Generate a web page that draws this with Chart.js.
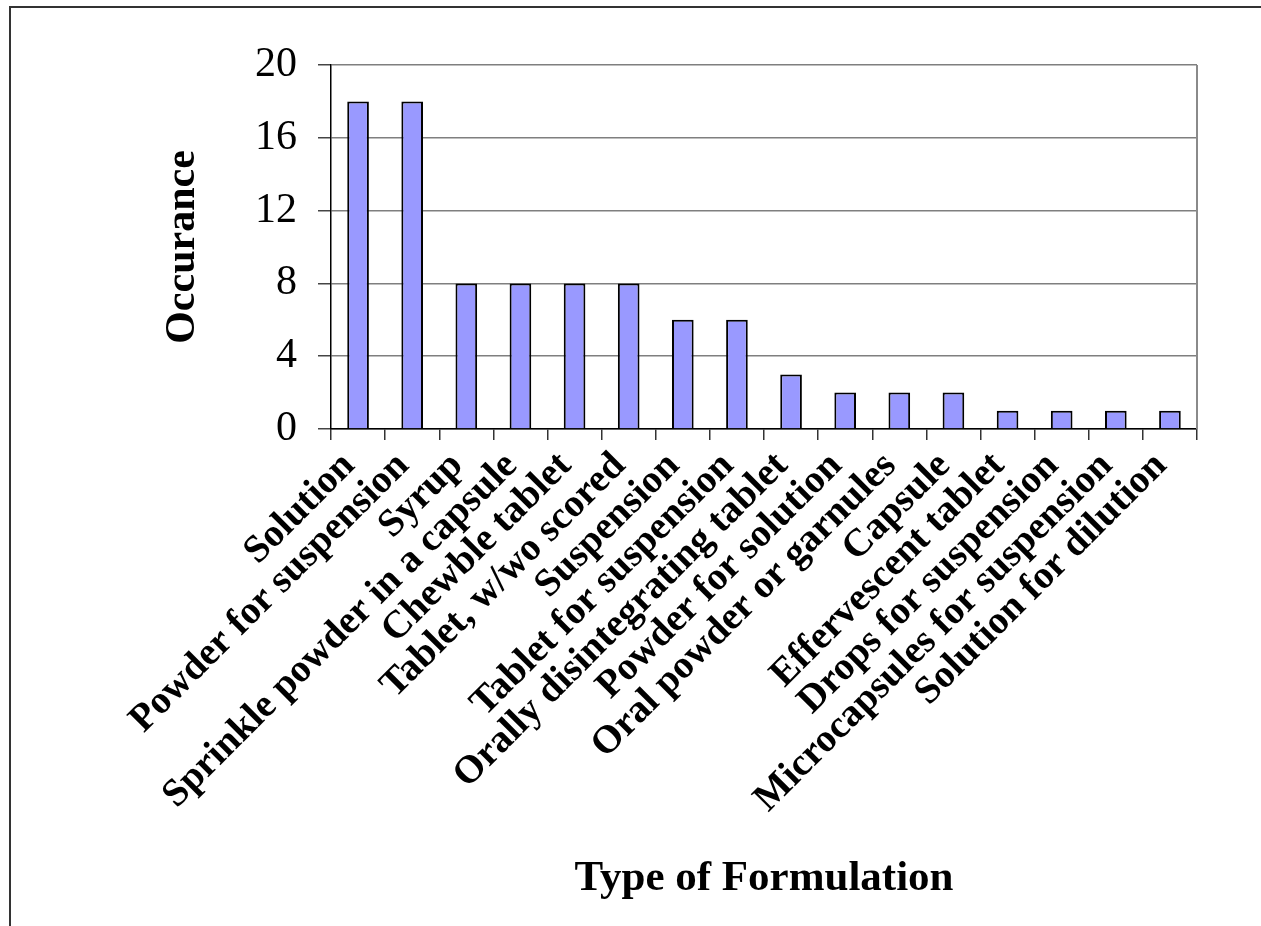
<!DOCTYPE html>
<html lang="en">
<head>
  <meta charset="utf-8">
  <title>Type of Formulation</title>
  <script src="https://cdn.jsdelivr.net/npm/chart.js@4"></script>
  <style>
    body { margin: 0; background: #fff; }
  </style>
</head>
<body>
  <canvas id="grafica" width="1261" height="926"></canvas>
<script>
  const categories = [
    'Solution',
    'Powder for suspension',
    'Syrup',
    'Sprinkle powder in a capsule',
    'Chewble tablet',
    'Tablet, w/wo scored',
    'Suspension',
    'Tablet for suspension',
    'Orally disintegrating tablet',
    'Powder for solution',
    'Oral powder or garnules',
    'Capsule',
    'Effervescent tablet',
    'Drops for suspension',
    'Microcapsules for suspension',
    'Solution for dilution'
  ];
  const occurance = [18, 18, 8, 8, 8, 8, 6, 6, 3, 2, 2, 2, 1, 1, 1, 1];
  const yTicks = [0, 4, 8, 12, 16, 20];

  const serif = "'Liberation Serif', 'Times New Roman', serif";

  // outer frame + right edge of the plot area
  const frame = {
    id: 'frame',
    beforeDraw(chart) {
      const ctx = chart.ctx;
      ctx.save();
      ctx.strokeStyle = '#333';
      ctx.lineWidth = 2;
      ctx.strokeRect(10, 7, 1400, 1000);
      ctx.restore();
    },
    beforeDatasetsDraw(chart) {
      const {ctx, chartArea} = chart;
      ctx.save();
      ctx.strokeStyle = '#8a8a8a';
      ctx.lineWidth = 2;
      ctx.beginPath();
      ctx.moveTo(chartArea.right, chartArea.top);
      ctx.lineTo(chartArea.right, chartArea.bottom);
      ctx.stroke();
      ctx.restore();
    }
  };

  const data = {
    labels: categories,
    datasets: [{
      label: 'Occurance',
      data: occurance,
      backgroundColor: '#9999ff',
      borderColor: '#000',
      borderWidth: 2,
      barPercentage: 0.4,
      categoryPercentage: 1.0
    }]
  };

  const config = {
    type: 'bar',
    data: data,
    options: {
      responsive: false,
      animation: false,
      layout: { padding: { left: 0, top: 65, right: 64, bottom: 0 } },
      plugins: { legend: { display: false }, tooltip: { enabled: false } },
      scales: {
        x: {
          grid: { display: true, drawOnChartArea: false, offset: true, tickLength: 11, tickColor: '#333', lineWidth: 1.5 },
          border: { color: '#000', width: 1.5 },
          ticks: {
            color: '#000',
            font: { family: serif, size: 39, weight: 'bold', lineHeight: 1 },
            minRotation: 45,
            maxRotation: 45,
            autoSkip: false,
            labelOffset: -9,
            padding: 6
          },
          title: {
            display: true,
            text: 'Type of Formulation',
            color: '#000',
            font: { family: serif, size: 43, weight: 'bold' },
            padding: { top: 0, bottom: 21 }
          },
          afterFit(scale) { scale.height = 497; }
        },
        y: {
          min: 0,
          max: 20,
          afterBuildTicks(scale) { scale.ticks = yTicks.map(v => ({ value: v })); },
          grid: { color: '#7f7f7f', lineWidth: 1.5, tickLength: 13, tickColor: '#444' },
          border: { color: '#000', width: 1.5 },
          ticks: {
            color: '#000',
            font: { family: serif, size: 42 },
            padding: 21
          },
          title: {
            display: true,
            text: 'Occurance',
            color: '#000',
            font: { family: serif, size: 42, weight: 'bold' },
            padding: { top: 158, bottom: 0 }
          },
          afterFit(scale) { scale.width = 331; }
        }
      }
    },
    plugins: [frame]
  };

  const myChart = new Chart(document.getElementById('grafica'), config);
</script>
</body>
</html>
